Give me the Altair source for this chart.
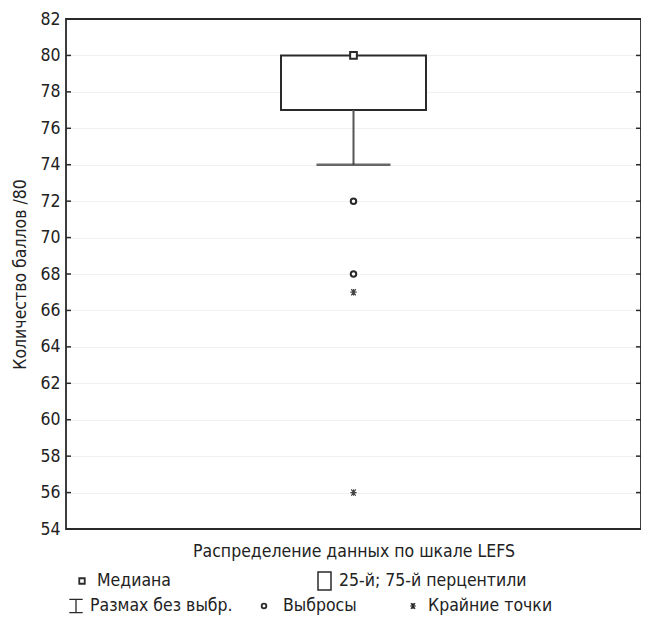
import altair as alt
import pandas as pd

# ---- data ----
category = ["Распределение данных по шкале LEFS"]
q1 = [77]
q3 = [80]
median = [80]
whisk_lo = [74]
whisk_hi = [80]
outliers = [72, 68]
extremes = [67, 56]
y_ticks = list(range(54, 84, 2))
y_title = "Количество баллов /80"
legend_labels = ["Медиана", "25-й; 75-й перцентили", "Размах без выбр.", "Выбросы", "Крайние точки"]

FONT = "DejaVu Sans Condensed"
FS = 17.5
DARK = "#2a2a2a"
W, H = 575, 510

box_df = pd.DataFrame({"cat": category, "q1": q1, "q3": q3, "median": median,
                       "lo": whisk_lo, "hi": whisk_hi})
out_df = pd.DataFrame({"cat": category * len(outliers), "v": outliers})
ext_df = pd.DataFrame({"cat": category * len(extremes), "v": extremes})
tick_df = pd.DataFrame({"v": y_ticks})

y_scale = alt.Scale(domain=[54, 82], nice=False, zero=False)
y_axis = alt.Axis(values=y_ticks, ticks=False, domain=False, grid=True, gridColor="#f1f1f1",
                  labelFontSize=FS, labelFont=FONT, labelColor="#222", labelPadding=6,
                  titleFontSize=FS, titleFont=FONT, titleColor="#222", titleFontWeight="normal",
                  titlePadding=10)
x_enc = alt.X("cat:N", scale=alt.Scale(paddingInner=0, paddingOuter=0),
              axis=alt.Axis(labels=False, ticks=False, domain=False, grid=False,
                            titleFontSize=FS, titleFont=FONT, titleColor="#222",
                            titleFontWeight="normal", titlePadding=13),
              title=category[0])


def Y(field):
    return alt.Y(field, scale=y_scale, axis=y_axis, title=y_title)


frame = alt.Chart(pd.DataFrame({"f": [0]})).mark_rect(
    fill="white", fillOpacity=0, stroke=DARK, strokeWidth=1.8).encode(
    x=alt.value(0), x2=alt.value(W), y=alt.value(0), y2=alt.value(H))
box = alt.Chart(box_df).mark_bar(size=145, fill="white", stroke=DARK, strokeWidth=2).encode(
    x=x_enc, y=Y("q1:Q"), y2="q3:Q")
whisker = alt.Chart(box_df).mark_rule(color="#555", strokeWidth=2).encode(
    x=x_enc, y=Y("lo:Q"), y2="q1:Q")
cap = alt.Chart(box_df).mark_tick(size=74, thickness=2.5, color=DARK).encode(
    x=x_enc, y=Y("lo:Q"))
med = alt.Chart(box_df).mark_point(shape="square", size=45, filled=True, fill="white",
                                   stroke=DARK, strokeWidth=2, opacity=1).encode(
    x=x_enc, y=Y("median:Q"))
outl = alt.Chart(out_df).mark_point(shape="circle", size=30, filled=True, fill="white",
                                    stroke=DARK, strokeWidth=2, opacity=1).encode(
    x=x_enc, y=Y("v:Q"))
ASTER = "M-1,0L1,0M-0.7,-1L0.7,1M-0.7,1L0.7,-1M0,-1L0,1"
ext = alt.Chart(ext_df).mark_point(shape=ASTER, size=40, stroke="#444", strokeWidth=1.2,
                                   opacity=1).encode(x=x_enc, y=Y("v:Q"))

ticks_l = alt.Chart(tick_df).mark_rule(color=DARK, strokeWidth=1.5).encode(
    y=Y("v:Q"), x=alt.value(0), x2=alt.value(5))
ticks_r = alt.Chart(tick_df).mark_rule(color=DARK, strokeWidth=1.5).encode(
    y=Y("v:Q"), x=alt.value(W - 5), x2=alt.value(W))

# ---- legend (drawn below the plot) ----
R1, R2 = 562, 587


def legend_text(i, x, y):
    return alt.Chart(pd.DataFrame({"label": [legend_labels[i]]})).mark_text(
        align="left", baseline="middle", font=FONT, fontSize=FS, color="#222").encode(
        text="label:N", x=alt.value(x), y=alt.value(y))


def legend_sym(shape, x, y, size, sw=1.8, filled=True):
    return alt.Chart(pd.DataFrame({"label": ["s"]})).mark_point(
        shape=shape, size=size, filled=filled, fill="white", stroke=DARK, strokeWidth=sw,
        opacity=1).encode(x=alt.value(x), y=alt.value(y))


leg_box = alt.Chart(pd.DataFrame({"label": ["b"]})).mark_rect(
    fill="white", stroke=DARK, strokeWidth=1.5).encode(
    x=alt.value(252), x2=alt.value(265), y=alt.value(R1 - 9), y2=alt.value(R1 + 9))
IBEAM = "M-1,-1L1,-1M0,-1L0,1M-1,1L1,1"

legend = [
    legend_sym("square", 16, R1, 30), legend_text(0, 31, R1),
    leg_box, legend_text(1, 273, R1),
    legend_sym(IBEAM, 10, R2, 180, sw=1.3, filled=False), legend_text(2, 24, R2),
    legend_sym("circle", 198, R2, 22), legend_text(3, 217, R2),
    legend_sym(ASTER, 347, R2, 34, sw=1.2, filled=False), legend_text(4, 362, R2),
]

chart = alt.layer(frame, box, whisker, cap, med, outl, ext, ticks_l, ticks_r, *legend).properties(
    width=W, height=H,
    padding={"left": 58, "top": 11, "right": 0, "bottom": 86},
    autosize=alt.AutoSizeParams(type="none"),
).configure_view(stroke=None).configure(background="white")

chart.save("out.html", embed_options={"renderer": "svg", "actions": False})
